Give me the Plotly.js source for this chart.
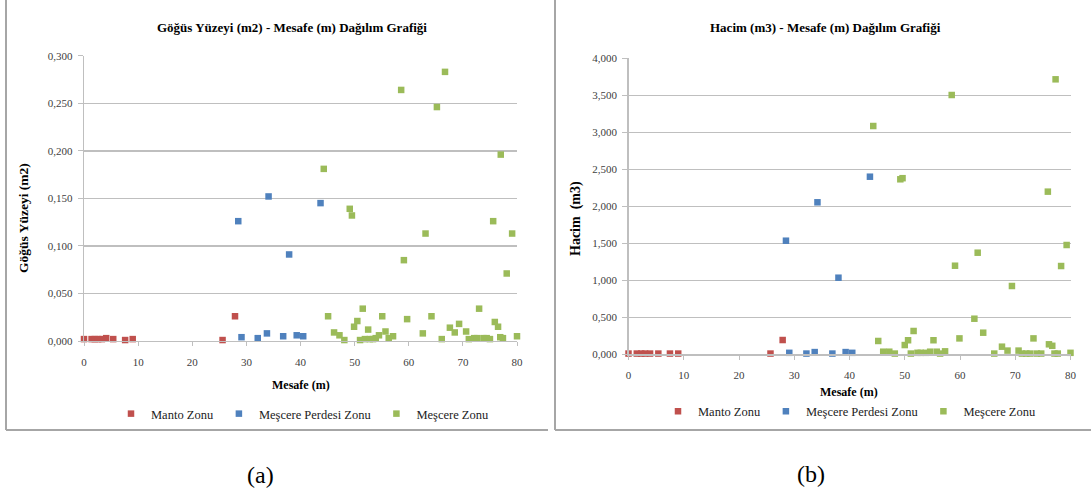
<!DOCTYPE html>
<html>
<head>
<meta charset="utf-8">
<script src="https://cdn.plot.ly/plotly-3.0.1.min.js"></script>
<style>html,body{margin:0;padding:0;background:#fff;}#chart{width:1091px;height:492px;}</style>
</head>
<body>
<div id="chart"></div>
<script>
// ---- Data: chart (a) Göğüs Yüzeyi (m2) vs Mesafe (m)
const mantoX_a = [0, 1.4, 2.0, 2.6, 3.3, 4.1, 5.4, 7.6, 9.0, 25.6, 27.9];
const mantoY_a = [0.002, 0.002, 0.002, 0.002, 0.002, 0.003, 0.002, 0.001, 0.002, 0.001, 0.026];
const perdesiX_a = [28.5, 29.1, 32.1, 33.8, 34.1, 36.8, 37.9, 39.3, 40.5, 43.7];
const perdesiY_a = [0.126, 0.004, 0.003, 0.008, 0.152, 0.005, 0.091, 0.006, 0.005, 0.145];
const mescereX_a = [44.3, 45.1, 46.2, 47.2, 48.1, 49.1, 49.5, 49.9, 50.5, 51.0,
  51.5, 51.9, 52.5, 52.8, 53.4, 53.9, 54.5, 55.1, 55.7, 56.3,
  57.1, 58.6, 59.1, 59.7, 62.6, 63.1, 64.2, 65.2, 66.1, 66.7,
  67.6, 68.5, 69.3, 70.6, 71.1, 72.1, 72.6, 73.0, 73.8, 74.4,
  75.0, 75.6, 75.9, 76.5, 77.0, 76.9, 77.4, 78.1, 79.1, 80.0];
const mescereY_a = [0.181, 0.026, 0.009, 0.006, 0.001, 0.139, 0.132, 0.015, 0.021, 0.001,
  0.034, 0.002, 0.012, 0.002, 0.002, 0.003, 0.006, 0.026, 0.010, 0.003,
  0.005, 0.264, 0.085, 0.023, 0.008, 0.113, 0.026, 0.246, 0.002, 0.283,
  0.014, 0.009, 0.018, 0.010, 0.002, 0.003, 0.003, 0.034, 0.003, 0.003,
  0.002, 0.126, 0.020, 0.015, 0.196, 0.004, 0.003, 0.071, 0.113, 0.005];

// ---- Data: chart (b) Hacim (m3) vs Mesafe (m)
const mantoX_b = [0, 1.5, 2.3, 3.0, 3.9, 5.4, 7.5, 9.0, 25.7, 27.9];
const mantoY_b = [0.01, 0.01, 0.01, 0.01, 0.01, 0.01, 0.01, 0.01, 0.01, 0.193];
const perdesiX_b = [28.5, 29.1, 32.2, 33.7, 34.2, 36.9, 38.0, 39.3, 40.5, 43.7];
const perdesiY_b = [1.535, 0.02, 0.01, 0.03, 2.054, 0.01, 1.035, 0.03, 0.02, 2.40];
const mescereX_b = [44.3, 45.2, 46.1, 47.2, 48.2, 49.2, 49.6, 50.0, 50.6, 51.1,
  51.6, 52.3, 52.9, 53.8, 54.6, 55.2, 55.8, 56.4, 57.3, 58.5,
  59.1, 59.9, 62.6, 63.2, 64.2, 66.2, 67.6, 68.6, 69.4, 70.6,
  71.2, 72.0, 72.7, 73.3, 73.9, 74.7, 75.9, 76.1, 76.7, 77.3,
  77.1, 77.7, 78.3, 79.3, 80.0];
const mescereY_b = [3.085, 0.18, 0.035, 0.035, 0.01, 2.365, 2.38, 0.125, 0.19, 0.01,
  0.315, 0.02, 0.02, 0.02, 0.035, 0.19, 0.035, 0.01, 0.04, 3.504,
  1.197, 0.215, 0.481, 1.373, 0.292, 0.01, 0.103, 0.05, 0.923, 0.05,
  0.01, 0.01, 0.01, 0.215, 0.01, 0.01, 2.198, 0.135, 0.115, 3.716,
  0.01, 0.01, 1.193, 1.477, 0.02];

const seriesNames = ['Manto Zonu', 'Meşcere Perdesi Zonu', 'Meşcere Zonu'];
const seriesColors = ['#C0504D', '#4F81BD', '#9BBB59'];
const titleA = 'Göğüs Yüzeyi (m2) - Mesafe (m) Dağılım Grafiği';
const titleB = 'Hacim (m3) - Mesafe (m) Dağılım Grafiği';
const yTitleA = 'Göğüs Yüzeyi (m2)';
const yTitleB = 'Hacim  (m3)';
const xTitle = 'Mesafe (m)';
const captions = ['(a)', '(b)'];

const FONT = '"Liberation Serif", "Times New Roman", serif';
const W = 1091, H = 492;

function mk(x, y, i, xa, ya, leg) {
  return {
    type: 'scatter', mode: 'markers', x: x, y: y, name: seriesNames[i],
    xaxis: xa, yaxis: ya, legend: leg, cliponaxis: false,
    marker: {symbol: 'square', size: 6.5, color: seriesColors[i]}
  };
}

const data = [
  mk(mantoX_a, mantoY_a, 0, 'x', 'y', 'legend'),
  mk(perdesiX_a, perdesiY_a, 1, 'x', 'y', 'legend'),
  mk(mescereX_a, mescereY_a, 2, 'x', 'y', 'legend'),
  mk(mantoX_b, mantoY_b, 0, 'x2', 'y2', 'legend2'),
  mk(perdesiX_b, perdesiY_b, 1, 'x2', 'y2', 'legend2'),
  mk(mescereX_b, mescereY_b, 2, 'x2', 'y2', 'legend2')
];

const gridC = '#bfbfbf';
function xax(dom, anchor) {
  return {
    domain: dom, anchor: anchor, range: [0, 80], dtick: 10, tick0: 0,
    showgrid: false, zeroline: false, showline: true, linecolor: gridC, linewidth: 1.4,
    ticks: 'outside', ticklen: 4, tickcolor: gridC, tickwidth: 1,
    ticklabelstandoff: 6,
    tickfont: {family: FONT, size: 11, color: '#404040'}
  };
}
function yax(dom, anchor, rng, dt) {
  return {
    domain: dom, anchor: anchor, range: rng, dtick: dt, tick0: 0,
    tickformat: '.3f',
    showgrid: true, gridcolor: gridC, gridwidth: 1.4,
    zeroline: false, showline: true, linecolor: gridC, linewidth: 1.4,
    ticks: 'outside', ticklen: 5, tickcolor: gridC, tickwidth: 1,
    ticklabelstandoff: 3,
    tickfont: {family: FONT, size: 11, color: '#404040'}
  };
}
function ann(text, x, y, size, extra) {
  return Object.assign({text: text, xref: 'paper', yref: 'paper', x: x / W, y: (H - y) / H,
    xanchor: 'center', yanchor: 'middle', showarrow: false,
    font: {family: FONT, size: size, color: '#000'}}, extra || {});
}

const layout = {
  width: W, height: H,
  margin: {l: 0, r: 0, t: 0, b: 0},
  paper_bgcolor: '#fff', plot_bgcolor: '#fff',
  separators: ',.',
  font: {family: FONT, size: 11, color: '#000'},
  showlegend: true,
  xaxis: xax([84 / W, 517 / W], 'y'),
  yaxis: yax([(H - 341) / H, (H - 55.7) / H], 'x', [0, 0.3], 0.05),
  xaxis2: xax([628.5 / W, 1070.5 / W], 'y2'),
  yaxis2: yax([(H - 354.3) / H, (H - 58.3) / H], 'x2', [0, 4], 0.5),
  legend: {orientation: 'h', x: 111 / W, xanchor: 'left', y: (H - 414) / H, yanchor: 'middle',
    font: {family: FONT, size: 12.5, color: '#222'}, bgcolor: 'rgba(0,0,0,0)', itemclick: false},
  legend2: {orientation: 'h', x: 658 / W, xanchor: 'left', y: (H - 411.5) / H, yanchor: 'middle',
    font: {family: FONT, size: 12.5, color: '#222'}, bgcolor: 'rgba(0,0,0,0)', itemclick: false},
  annotations: [
    ann('<b>' + titleA + '</b>', 292, 27, 13),
    ann('<b>' + titleB + '</b>', 825, 27, 13),
    ann('<b>' + yTitleA + '</b>', 23, 218, 13.5, {textangle: -90}),
    ann('<b>' + yTitleB + '</b>', 576, 219, 14, {textangle: -90}),
    ann('<b>' + xTitle + '</b>', 301, 384.5, 12),
    ann('<b>' + xTitle + '</b>', 849, 391.5, 12),
    ann(captions[0], 260, 475, 24),
    ann(captions[1], 811, 474, 24)
  ],
  shapes: [
    {type: 'line', xref: 'paper', yref: 'paper', x0: 6 / W, x1: 6 / W, y0: 1, y1: (H - 430) / H, line: {color: '#a6a6a6', width: 2}},
    {type: 'line', xref: 'paper', yref: 'paper', x0: 6 / W, x1: 548 / W, y0: (H - 430) / H, y1: (H - 430) / H, line: {color: '#a6a6a6', width: 2}},
    {type: 'line', xref: 'paper', yref: 'paper', x0: 555 / W, x1: 555 / W, y0: 1, y1: (H - 430) / H, line: {color: '#a6a6a6', width: 2}},
    {type: 'line', xref: 'paper', yref: 'paper', x0: 555 / W, x1: 1, y0: (H - 430) / H, y1: (H - 430) / H, line: {color: '#a6a6a6', width: 2}}
  ]
};

Plotly.newPlot('chart', data, layout, {staticPlot: true, displayModeBar: false});
</script>
</body>
</html>
